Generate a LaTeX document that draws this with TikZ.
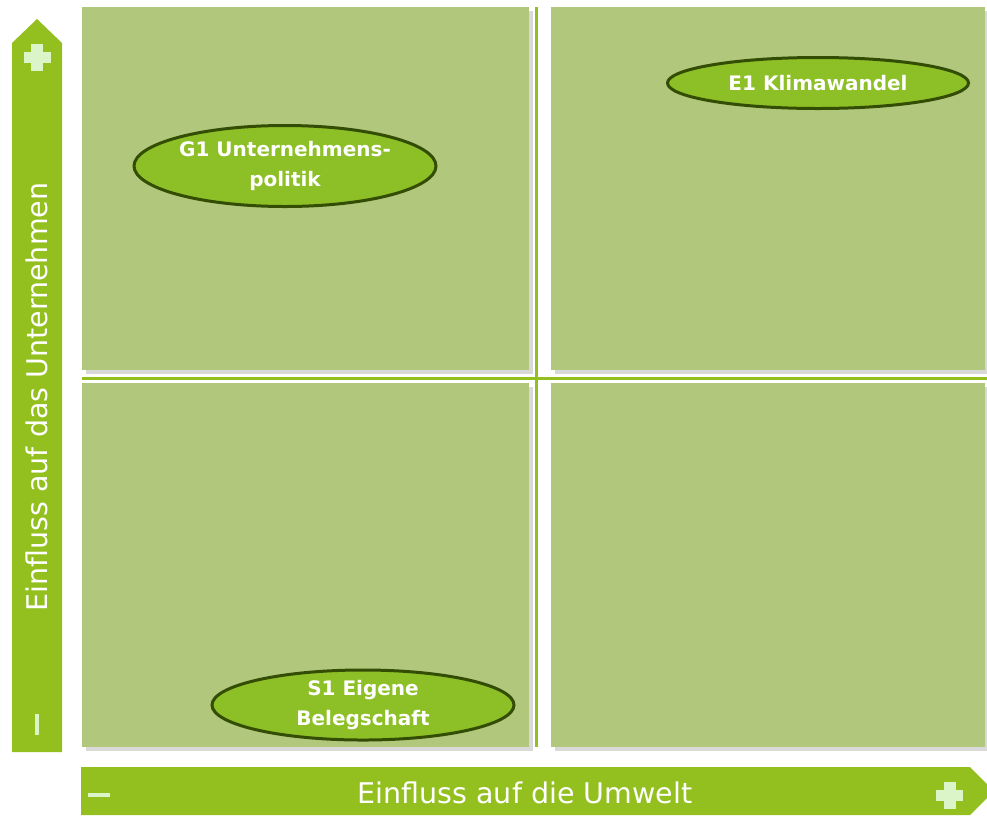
\documentclass[tikz,border=0pt]{standalone}
\usepackage{fontspec}
\setmainfont{DejaVu Sans}
\usetikzlibrary{shapes.geometric,shadows}
\definecolor{fieldgreen}{HTML}{B0C77C}
\definecolor{bargreen}{HTML}{93C01F}
\definecolor{topicgreen}{HTML}{8DBF26}
\definecolor{topicrim}{HTML}{344D05}
\definecolor{signgreen}{HTML}{DCF5C8}
\tikzset{
  quadrant/.style={fill=fieldgreen,draw=none,
    drop shadow={shadow xshift=4pt,shadow yshift=-4pt,opacity=0.25,fill=black!60}},
  topic/.style={ellipse,draw=topicrim,line width=3pt,fill=topicgreen,
    text=white,font=\bfseries\fontsize{20}{30}\selectfont,align=center,inner sep=0pt},
  axisbar/.style={fill=bargreen,draw=none},
  axislabel/.style={text=white,font=\fontsize{28.5}{34}\selectfont}
}
\newcommand{\plussign}[1]{%
  \fill[signgreen] ($(#1)+(-13.5,-5.5)$) rectangle ($(#1)+(13.5,5.5)$);
  \fill[signgreen] ($(#1)+(-6,-13.5)$) rectangle ($(#1)+(6,13.5)$);}
\usetikzlibrary{calc}
\begin{document}
\begin{tikzpicture}[x=1pt,y=-1pt]
  \useasboundingbox (0,0) rectangle (987,815);
  % quadrants
  \path[quadrant] (82,7) rectangle (529,370);
  \path[quadrant] (551,7) rectangle (985,370);
  \path[quadrant] (82,383) rectangle (529,747);
  \path[quadrant] (551,383) rectangle (985,747);
  % divider lines
  \fill[bargreen] (535,7) rectangle (538,747);
  \fill[bargreen] (82,377) rectangle (987,380);
  % vertical axis
  \path[axisbar] (12,752) -- (12,43) -- (37,19) -- (62,43) -- (62,752) -- cycle;
  \coordinate (vplus) at (37,57.5);
  \plussign{vplus}
  \fill[signgreen] (35,714) rectangle (39,735);
  \node[axislabel,rotate=90] (vlabel) at (37,397) {Einfluss auf das Unternehmen};
  % horizontal axis
  \path[axisbar] (81,767) -- (970,767) -- (994,791) -- (970,815) -- (81,815) -- cycle;
  \coordinate (hplus) at (949.5,795.5);
  \plussign{hplus}
  \fill[signgreen] (88,793) rectangle (110,797);
  \node[axislabel] (hlabel) at (525,793) {Einfluss auf die Umwelt};
  % topics
  \node[topic,minimum width=302pt,minimum height=81pt] (g1) at (285,166)
    {G1 Unternehmens-\\politik};
  \node[topic,minimum width=301pt,minimum height=51pt] (e1) at (818,83)
    {E1 Klimawandel};
  \node[topic,minimum width=302pt,minimum height=69pt] (s1) at (363,705)
    {S1 Eigene\\Belegschaft};
\end{tikzpicture}
\end{document}
